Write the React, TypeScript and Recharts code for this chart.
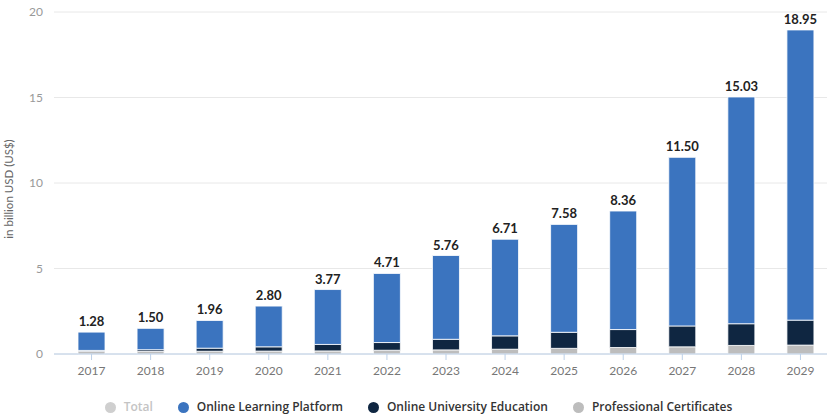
import React from 'react';
import { BarChart, Bar, XAxis, YAxis, CartesianGrid, LabelList, Legend } from 'recharts';

const years = ['2017', '2018', '2019', '2020', '2021', '2022', '2023', '2024', '2025', '2026', '2027', '2028', '2029'];
const totals = [1.28, 1.5, 1.96, 2.8, 3.77, 4.71, 5.76, 6.71, 7.58, 8.36, 11.5, 15.03, 18.95];
const professional = [0.15, 0.15, 0.16, 0.17, 0.18, 0.22, 0.24, 0.28, 0.33, 0.38, 0.42, 0.5, 0.52];
const university = [0.06, 0.1, 0.18, 0.25, 0.38, 0.45, 0.62, 0.78, 0.94, 1.05, 1.22, 1.27, 1.46];
const platform = [1.07, 1.25, 1.62, 2.38, 3.21, 4.04, 4.9, 5.65, 6.31, 6.93, 9.86, 13.26, 16.97];
const yTicks = [0, 5, 10, 15, 20];

const seriesNames = {
  total: 'Total',
  platform: 'Online Learning Platform',
  university: 'Online University Education',
  professional: 'Professional Certificates',
};

const COLORS = {
  total: '#cfcfcf',
  platform: '#3b74bf',
  university: '#0f2641',
  professional: '#bdbdbd',
};

const data = years.map((year, i) => ({
  year,
  total: totals[i],
  professional: professional[i],
  university: university[i],
  platform: platform[i],
}));

const FONT = 'Lato, "Open Sans", sans-serif';
const LEGEND_FONT = '"Open Sans", Lato, sans-serif';

const legendItems = [
  { key: 'total', label: seriesNames.total, color: COLORS.total, text: '#c4c4c4' },
  { key: 'platform', label: seriesNames.platform, color: COLORS.platform, text: '#333' },
  { key: 'university', label: seriesNames.university, color: COLORS.university, text: '#333' },
  { key: 'professional', label: seriesNames.professional, color: COLORS.professional, text: '#333' },
];

const renderLegend = () => (
  <div
    style={{
      display: 'flex',
      justifyContent: 'center',
      alignItems: 'center',
      gap: 25,
      fontFamily: LEGEND_FONT,
      fontSize: 12,
      fontWeight: 600,
      lineHeight: '16px',
      paddingLeft: 7,
    }}
  >
    {legendItems.map((it) => (
      <div key={it.key} style={{ display: 'flex', alignItems: 'center' }}>
        <span
          style={{
            width: 11,
            height: 11,
            borderRadius: '50%',
            background: it.color,
            display: 'inline-block',
            marginRight: 8,
          }}
        />
        <span style={{ color: it.text }}>{it.label}</span>
      </div>
    ))}
  </div>
);

const YLabel = (props: any) => {
  const vb = props.viewBox || { y: 12, height: 342 };
  const cy = vb.y + vb.height / 2 + 6;
  return (
    <text
      x={13}
      y={cy}
      transform={`rotate(-90, 13, ${cy})`}
      textAnchor="middle"
      fill="#666"
      fontSize={11.5}
      fontFamily={FONT}
    >
      in billion USD (US$)
    </text>
  );
};

export default function App() {
  return (
    <div style={{ position: 'absolute', left: 0, top: 0, width: 827, height: 415, overflow: 'hidden', background: '#fff' }}>
      <BarChart
        width={830}
        height={415}
        data={data}
        margin={{ top: 12, right: 0, bottom: 0, left: 0 }}
        barSize={27}
      >
        <CartesianGrid vertical={false} stroke="#e8e8e8" strokeWidth={1} />
        <XAxis
          dataKey="year"
          padding={{ left: 8, right: 0 }}
          axisLine={{ stroke: '#bcd0e8' }}
          tickLine={{ stroke: '#bcd0e8' }}
          tickSize={6}
          tickMargin={6}
          tick={{ fill: '#777', fontSize: 12, fontFamily: FONT }}
          height={45}
          interval={0}
        />
        <YAxis
          width={54}
          domain={[0, 20]}
          ticks={yTicks}
          axisLine={false}
          tickLine={false}
          tickMargin={5}
          tick={{ fill: '#999', fontSize: 12, fontFamily: FONT }}
          label={{ position: 'insideLeft', content: YLabel }}
        />
        <Legend verticalAlign="bottom" height={16} content={renderLegend} wrapperStyle={{ bottom: 0 }} />
        <Bar dataKey="professional" stackId="a" fill={COLORS.professional} stroke="#fff" strokeWidth={0.8} isAnimationActive={false} />
        <Bar dataKey="university" stackId="a" fill={COLORS.university} stroke="#fff" strokeWidth={0.8} isAnimationActive={false} />
        <Bar dataKey="platform" stackId="a" fill={COLORS.platform} stroke="#fff" strokeWidth={0.8} isAnimationActive={false}>
          <LabelList
            dataKey="total"
            position="top"
            offset={6}
            formatter={(v: any) => Number(v).toFixed(2)}
            style={{ fill: '#222', fontSize: 13, fontWeight: 700, fontFamily: FONT }}
          />
        </Bar>
      </BarChart>
    </div>
  );
}
